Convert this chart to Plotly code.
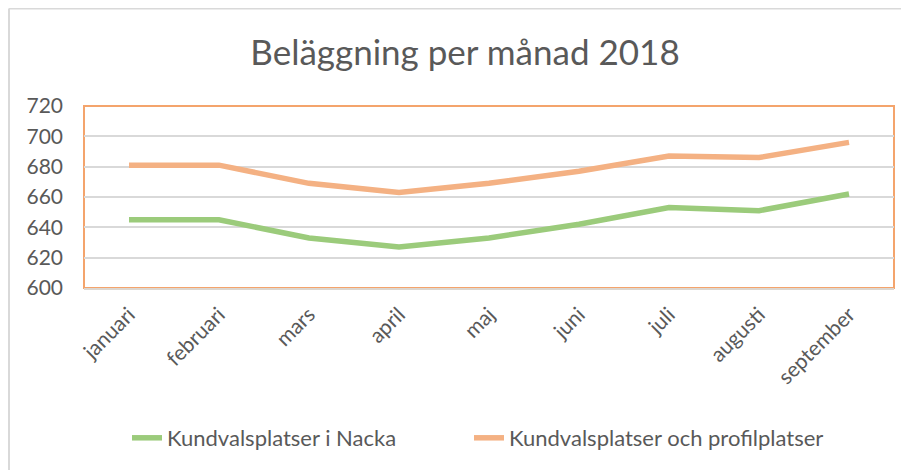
import plotly.graph_objects as go

months = ["januari", "februari", "mars", "april", "maj", "juni", "juli", "augusti", "september"]
nacka = [645, 645, 633, 627, 633, 642, 653, 651, 662]
profil = [681, 681, 669, 663, 669, 677, 687, 686, 696]
y_ticks = [600, 620, 640, 660, 680, 700, 720]

# page is drawn with an 8px body offset
OFF = 8
W, H = 909, 470
L, R, T, B = 84 - OFF, 15 + OFF, 106 - OFF, 182 + OFF
pw, ph = W - L - R, H - T - B

def px(x):
    return (x - OFF - L) / pw

def py(y):
    return (H - B - (y - OFF)) / ph

FONT = "Lato"
GREY = "#595959"

fig = go.Figure()
fig.add_trace(go.Scatter(x=months, y=nacka, mode="lines", name="Kundvalsplatser i Nacka",
                         line=dict(color="#9BCB7B", width=5.5), legend="legend"))
fig.add_trace(go.Scatter(x=months, y=profil, mode="lines", name="Kundvalsplatser och profilplatser",
                         line=dict(color="#F4B183", width=5.5), legend="legend2"))

leg_common = dict(orientation="h", xanchor="left", y=py(438), yanchor="middle",
                  font=dict(size=22, color=GREY), bgcolor="rgba(0,0,0,0)")

fig.update_layout(
    width=W, height=H,
    margin=dict(l=L, r=R, t=T, b=B, autoexpand=False),
    paper_bgcolor="white", plot_bgcolor="white",
    font=dict(family=FONT, color=GREY),
    title=dict(text="Beläggning per månad 2018", xref="container", x=(465 - OFF) / W, xanchor="center",
               y=1 - (53 - OFF) / H, yanchor="middle", font=dict(size=35, color=GREY)),
    showlegend=True,
    legend=dict(x=px(127), **leg_common),
    legend2=dict(x=px(469), **leg_common),
    xaxis=dict(type="category", showgrid=False, showline=True, linecolor="#DDD7D0", linewidth=2,
               tickangle=-45, tickfont=dict(size=21, color=GREY), ticks="", range=[-0.5, 8.5],
               ticklabelstandoff=4, automargin=False),
    yaxis=dict(range=[600, 720], tickvals=y_ticks, showgrid=True, gridcolor="#D9D9D9", gridwidth=1.5,
               showline=False, zeroline=False, tickfont=dict(size=21, color=GREY), ticks="",
               ticklabelstandoff=20, automargin=False),
    shapes=[
        dict(type="rect", xref="paper", yref="paper", x0=0, x1=1, y0=0, y1=1,
             line=dict(color="#F4A46C", width=2), layer="below"),
        dict(type="line", xref="paper", yref="paper", x0=px(9), x1=px(9), y0=py(8.5), y1=py(480),
             line=dict(color="#D9D9D9", width=2)),
        dict(type="line", xref="paper", yref="paper", x0=px(9), x1=px(920), y0=py(8.5), y1=py(8.5),
             line=dict(color="#D9D9D9", width=2)),
    ],
)
fig.write_html("out.html")
